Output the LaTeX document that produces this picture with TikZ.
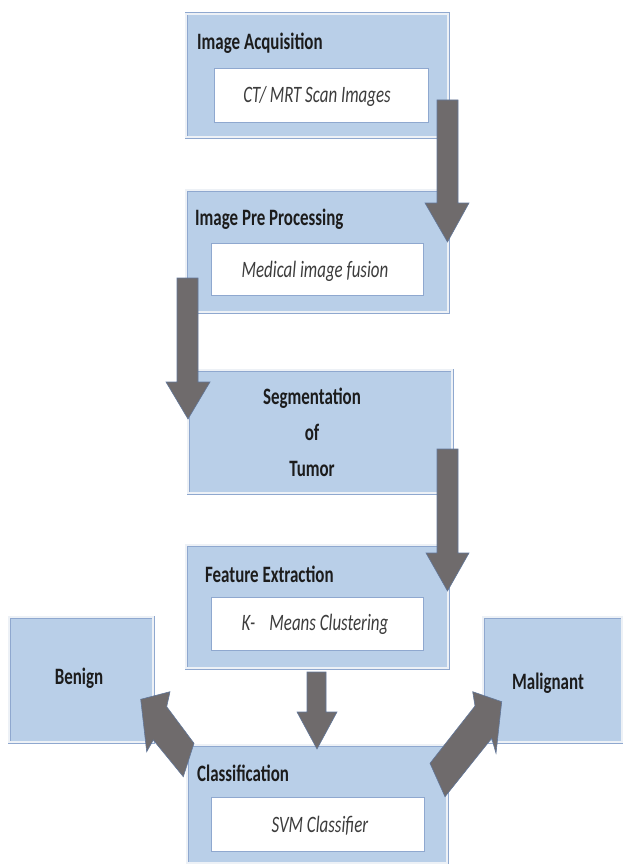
\documentclass[tikz,border=0pt]{standalone}
\usepackage{fontspec}
\setmainfont{Carlito}
\newfontfamily\sqfont[FakeStretch=0.72]{Carlito}
\definecolor{boxfill}{HTML}{B9CFE8}
\definecolor{boxline}{HTML}{8FA8CF}
\definecolor{boxinner}{HTML}{EDF1F6}
\definecolor{arrowfill}{HTML}{6F6B6C}
\definecolor{arrowline}{HTML}{62779A}
\definecolor{titlecol}{HTML}{1C1C1C}
\definecolor{itcol}{HTML}{3C3C3C}
\tikzset{
  bluebox/.style={draw=boxline, line width=0.7pt, double=boxinner, double distance=1.6pt, fill=boxfill, inner sep=0pt, rectangle},
  whitebox/.style={draw=boxline, line width=0.8pt, fill=white, inner sep=0pt, rectangle},
  titletext/.style={inner sep=0pt, anchor=base west, text=titlecol, font=\sqfont\fontsize{23.5}{28}\selectfont\bfseries},
  centertext/.style={inner sep=0pt, anchor=base, text=titlecol, font=\sqfont\fontsize{23.5}{28}\selectfont\bfseries},
  ittext/.style={inner sep=0pt, anchor=base, text=itcol, font=\sqfont\fontsize{23.5}{28}\selectfont\itshape},
  blockarrow/.style={fill=arrowfill, draw=arrowline, line width=0.6pt, line join=miter}
}
\begin{document}
\begin{tikzpicture}[x=1pt, y=-1pt]
\useasboundingbox (0,0) rectangle (623,864);
% main boxes
\node[bluebox, minimum width=262pt, minimum height=123pt] (acq) at (317,75.5) {};
\node[whitebox, minimum width=214pt, minimum height=54pt] (acqin) at (321,95) {};
\node[titletext] (acqt) at (197,49.5) {Image Acquisition};
\node[ittext] (acqi) at (317,102.5) {CT/ MRT Scan Images};

\node[bluebox, minimum width=262pt, minimum height=122pt] (pre) at (317,251) {};
\node[whitebox, minimum width=212pt, minimum height=52pt] (prein) at (317,269) {};
\node[titletext] (pret) at (195,225.5) {Image Pre Processing};
\node[ittext] (prei) at (315,277.5) {Medical image fusion};

\node[bluebox, minimum width=264pt, minimum height=123pt] (seg) at (320,431.5) {};
\node[centertext] (seg1) at (312,404.5) {Segmentation};
\node[centertext] (seg2) at (312,440.5) {of};
\node[centertext] (seg3) at (312,476.5) {Tumor};

\node[bluebox, minimum width=262pt, minimum height=123pt] (feat) at (317,606.5) {};
\node[whitebox, minimum width=212pt, minimum height=53pt] (featin) at (317,623.5) {};
\node[titletext] (featt) at (205,582.5) {Feature Extraction};
\node[ittext] (feati) at (315,630.5) {K-\hspace{0.6em}Means Clustering};

\node[bluebox, minimum width=260pt, minimum height=118pt] (cls) at (317,804) {};
\node[whitebox, minimum width=213pt, minimum height=54pt] (clsin) at (317.5,824) {};
\node[titletext] (clst) at (197,781) {Classification};
\node[ittext] (clsi) at (320,832.5) {SVM Classifier};

\node[bluebox, minimum width=144pt, minimum height=125pt] (ben) at (81,679.5) {};
\node[centertext] (bent) at (79,684.5) {Benign};
\node[bluebox, minimum width=139pt, minimum height=125pt] (mal) at (552.5,679.5) {};
\node[centertext] (malt) at (548,689.5) {Malignant};

% block arrows
\path[blockarrow] (437,100) -- (458,100) -- (458,203) -- (469,203) -- (447.5,242) -- (425,203) -- (437,203) -- cycle;
\path[blockarrow] (177,278) -- (198,278) -- (198,382) -- (210,382) -- (188,419) -- (166,382) -- (177,382) -- cycle;
\path[blockarrow] (437,449) -- (458,449) -- (458,553) -- (469,553) -- (447.5,591) -- (426,553) -- (437,553) -- cycle;
\path[blockarrow] (307,672) -- (326,672) -- (326,712) -- (337,712) -- (317,749) -- (297,712) -- (307,712) -- cycle;
\path[blockarrow] (140.7,699.3) -- (170,691.7) -- (166.7,706.7) -- (194,743.3) -- (183.3,776.7) -- (153.3,740) -- (146.7,751.7) -- cycle;
\path[blockarrow] (472.7,691.7) -- (501.7,701.7) -- (496,753.3) -- (491.7,738.3) -- (445,796.7) -- (430,763.3) -- (475,706) -- cycle;
\end{tikzpicture}
\end{document}
